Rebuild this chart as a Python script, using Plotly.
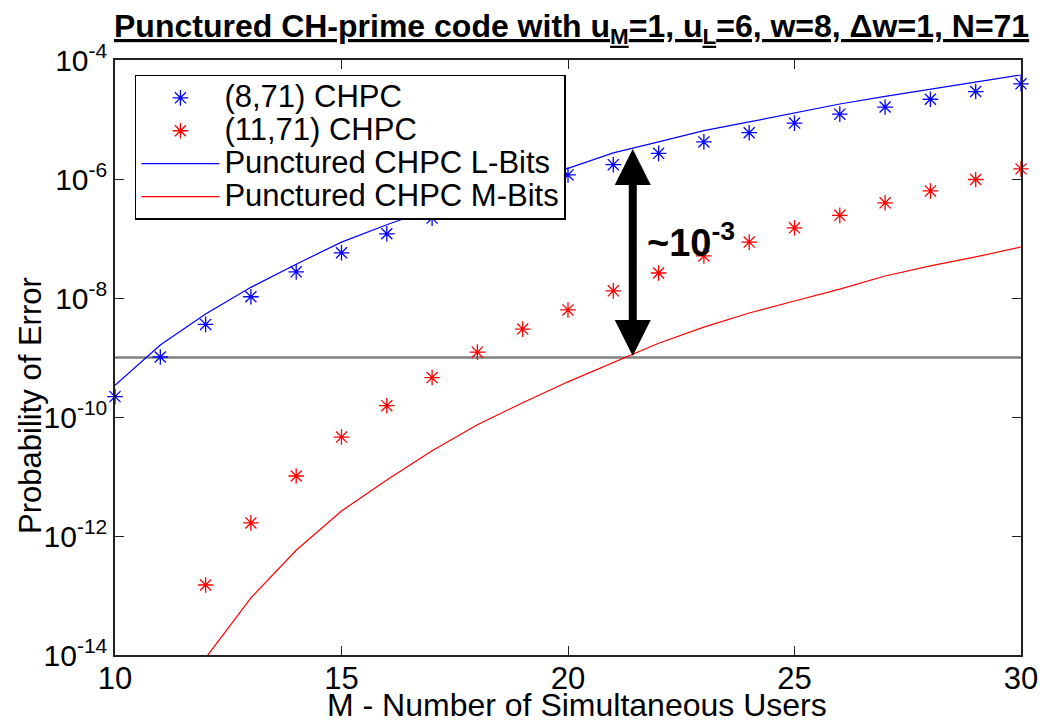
import numpy as np
import plotly.graph_objects as go

# Number of simultaneous users
users = list(range(10, 31))

# (8,71) CHPC simulation points (probability of error)
chpc_8_71 = [2.2e-10, 1.02e-9, 3.6e-9, 1.05e-8, 2.75e-8, 5.75e-8, 1.2e-7,
             2.2e-7, 4.0e-7, 6.8e-7, 1.17e-6, 1.74e-6, 2.7e-6, 4.2e-6,
             6.0e-6, 8.7e-6, 1.23e-5, 1.62e-5, 2.19e-5, 2.95e-5, 3.98e-5]

# (11,71) CHPC simulation points, starting at M = 12
users_11_71 = list(range(12, 31))
chpc_11_71 = [1.5e-13, 1.66e-12, 1.02e-11, 4.6e-11, 1.55e-10, 4.6e-10,
              1.23e-9, 3.0e-9, 6.3e-9, 1.32e-8, 2.63e-8, 5.1e-8, 8.7e-8,
              1.51e-7, 2.45e-7, 3.98e-7, 6.3e-7, 9.8e-7, 1.48e-6]

# Punctured CHPC analytical curves
punct_L = [3.4e-10, 1.62e-9, 5.4e-9, 1.51e-8, 3.7e-8, 8.7e-8, 1.7e-7,
           3.16e-7, 5.4e-7, 9.3e-7, 1.51e-6, 2.75e-6, 4.2e-6, 6.5e-6,
           9.1e-6, 1.29e-5, 1.82e-5, 2.45e-5, 3.24e-5, 4.27e-5, 5.6e-5]
users_M = list(range(12, 31))
punct_M = [8.9e-15, 9.1e-14, 5.75e-13, 2.63e-12, 8.7e-12, 2.7e-11, 7.4e-11,
           1.74e-10, 3.9e-10, 8.3e-10, 1.74e-9, 3.24e-9, 5.6e-9, 8.9e-9,
           1.41e-8, 2.34e-8, 3.47e-8, 4.9e-8, 7.2e-8]

# Reference error level and the gap indicator
ref_level = 1e-9
arrow_x = 21.43
arrow_top = 3.2e-6
arrow_bottom = 1e-9
gap_label = "~10<sup>-3</sup>"

y_tick_vals = [1e-14, 1e-12, 1e-10, 1e-8, 1e-6, 1e-4]
y_tick_text = ["10<sup>-14</sup>", "10<sup>-12</sup>", "10<sup>-10</sup>",
               "10<sup>-8</sup>", "10<sup>-6</sup>", "10<sup>-4</sup>"]
x_tick_vals = [10, 15, 20, 25, 30]

FONT = "Liberation Sans, Arial, sans-serif"


def legend_label(text):
    # Legend rows are spaced by the legend font size; the label itself is larger
    return '<span style="font-size:31px">' + text + "</span>"


fig = go.Figure()

fig.add_trace(go.Scatter(
    x=[users[0], users[-1]], y=[ref_level, ref_level], mode="lines",
    line=dict(color="#808080", width=2.5), showlegend=False, hoverinfo="skip"))

fig.add_trace(go.Scatter(
    x=users, y=chpc_8_71, mode="markers", name=legend_label("(8,71) CHPC"),
    marker=dict(symbol="asterisk-open", size=13, color="#0000ff",
                line=dict(color="#0000ff", width=1.3)),
    cliponaxis=False))
fig.add_trace(go.Scatter(
    x=users_11_71, y=chpc_11_71, mode="markers",
    name=legend_label("(11,71) CHPC"),
    marker=dict(symbol="asterisk-open", size=13, color="#ff0000",
                line=dict(color="#ff0000", width=1.3)),
    cliponaxis=False))
fig.add_trace(go.Scatter(
    x=users, y=punct_L, mode="lines",
    name=legend_label("Punctured CHPC L-Bits"),
    line=dict(color="#0000ff", width=1.2)))
fig.add_trace(go.Scatter(
    x=users_M, y=punct_M, mode="lines",
    name=legend_label("Punctured CHPC M-Bits"),
    line=dict(color="#ff0000", width=1.2)))

# Double-headed arrow marking the gap between the two curves
fig.add_annotation(
    x=arrow_x, y=np.log10(arrow_top), ax=arrow_x, ay=np.log10(arrow_bottom),
    xref="x", yref="y", axref="x", ayref="y", text="", showarrow=True,
    arrowhead=2, startarrowhead=2, arrowside="end+start",
    arrowsize=0.9, startarrowsize=0.9, arrowwidth=8, arrowcolor="black")
fig.add_annotation(
    x=22.72, y=-7.03, xref="x", yref="y", text="<b>" + gap_label + "</b>",
    showarrow=False, font=dict(family=FONT, size=38, color="black"))

# Title and axis labels (paper coordinates span the plotting area)
fig.add_annotation(
    x=0.504, y=1.09, xref="paper", yref="paper", xanchor="center",
    yanchor="top",
    text="<b><u>Punctured CH-prime code with u<sub>M</sub>=1, "
         "u<sub>L</sub>=6, w=8, \u0394w=1, N=71</u></b>",
    showarrow=False,
    font=dict(family="Liberation Sans Narrow, Arial Narrow, " + FONT,
              size=32, color="black"))
fig.add_annotation(
    x=0.51, y=-0.1176, xref="paper", yref="paper", xanchor="center",
    yanchor="bottom", text="M - Number of Simultaneous Users",
    showarrow=False, font=dict(family=FONT, size=32, color="black"))
fig.add_annotation(
    x=-0.094, y=0.42, xref="paper", yref="paper", xanchor="center",
    yanchor="middle", text="Probability of Error", textangle=-90,
    showarrow=False, font=dict(family=FONT, size=31, color="black"))

axis_common = dict(showgrid=False, zeroline=False, showline=True,
                   linecolor="#222222", linewidth=1.5, mirror="ticks",
                   ticks="inside", ticklen=9, tickwidth=1.2,
                   tickcolor="#222222")

fig.update_xaxes(range=[10, 30], tickvals=x_tick_vals, ticklabelstandoff=-5,
                 tickfont=dict(family=FONT, size=31, color="black"),
                 **axis_common)
fig.update_yaxes(type="log", range=[-14, -4], tickvals=y_tick_vals,
                 ticktext=y_tick_text, ticklabelstandoff=0,
                 tickfont=dict(family=FONT, size=30, color="black"),
                 **axis_common)

fig.update_layout(
    width=1055, height=725,
    margin=dict(l=115, r=34, t=60, b=70),
    paper_bgcolor="white", plot_bgcolor="white",
    font=dict(family=FONT, color="black"),
    legend=dict(x=0.022, y=0.975, xanchor="left", yanchor="top",
                bgcolor="white", bordercolor="black", borderwidth=1.5,
                font=dict(family=FONT, size=23, color="black"),
                itemwidth=78, tracegroupgap=0),
)

fig.write_html("out.html")
